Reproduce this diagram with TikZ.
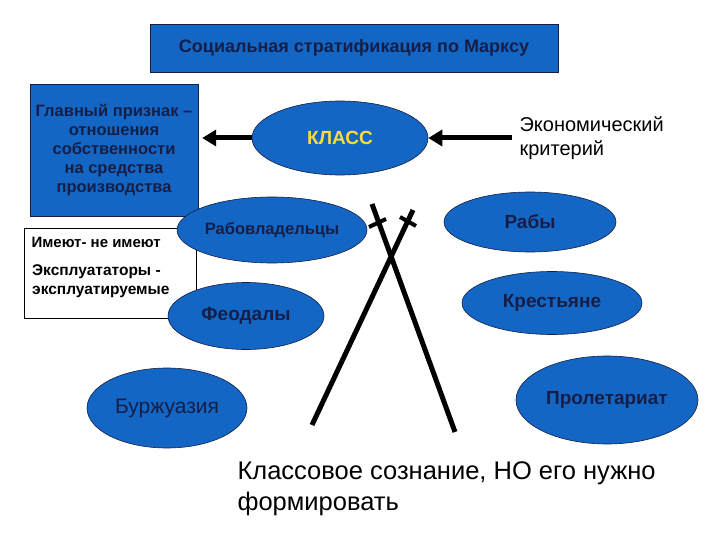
\documentclass[tikz,border=0pt]{standalone}
\usepackage{fontspec}
\setmainfont{Liberation Sans}
\usetikzlibrary{shapes.geometric,arrows.meta}
\definecolor{blu}{RGB}{20,102,196}
\definecolor{navy}{RGB}{20,30,70}
\definecolor{yel}{RGB}{250,220,60}
\tikzset{
 ell/.style={ellipse,draw=navy,fill=blu,line width=0.6pt,inner sep=0pt,font=\bfseries\fontsize{19}{21}\selectfont,text=navy},
 stick/.style={line width=5pt,black},
}
\begin{document}
\begin{tikzpicture}[x=1pt,y=-1pt]
\useasboundingbox (0,0) rectangle (720,540);
\fill[white] (0,0) rectangle (720,540);
% title
\node[draw=navy,fill=blu,minimum width=408pt,minimum height=48pt,font=\bfseries\fontsize{18}{20}\selectfont,text=navy] (title) at (354,48) {Социальная стратификация по Марксу};
% white box
\node[draw=black,fill=white,line width=0.5pt,minimum width=172pt,minimum height=90pt] (wbox) at (110,273) {};
\node[anchor=west,font=\bfseries\fontsize{15}{18}\selectfont] (t1) at (28,242) {Имеют- не имеют};
\node[anchor=north west,align=left,font=\bfseries\fontsize{15.5}{19}\selectfont,inner sep=2pt] (t2) at (30,262) {Эксплуататоры -\\эксплуатируемые};
% blue box
\node[draw=navy,fill=blu,minimum width=168pt,minimum height=132pt,align=center,font=\bfseries\fontsize{16.5}{19}\selectfont,text=navy] (gbox) at (114,150) {Главный признак –\\отношения\\собственности\\на средства\\производства};
% ellipses
\node[ell,minimum width=176pt,minimum height=74pt,text=yel] (klass) at (340,138) {КЛАСС};
\node[ell,minimum width=161pt,minimum height=66pt,font=\bfseries\fontsize{16.5}{19}\selectfont] (rabov) at (272,230) {Рабовладельцы};
\node[ell,minimum width=156pt,minimum height=67pt] (feod) at (246,316) {Феодалы};
\node[ell,minimum width=160pt,minimum height=80pt,font=\fontsize{21}{23}\selectfont] (burzh) at (167,408) {Буржуазия};
\node[ell,minimum width=172pt,minimum height=60pt] (raby) at (530,222) {Рабы};
\node[ell,minimum width=180pt,minimum height=63pt] (krest) at (552,303) {Крестьяне};
\node[ell,minimum width=182pt,minimum height=88pt] (prol) at (607,400) {Пролетариат};
% economic criterion
\node[align=left,anchor=west,font=\fontsize{20}{24}\selectfont] (ekon) at (516,138) {Экономический\\критерий};
\coordinate (ekonL) at (512,138);
\coordinate (gE) at (gbox.east |- klass.west);
% arrows
\draw[line width=5pt,-{Triangle[length=14pt,width=16pt]}] (klass.west) -- ([xshift=4pt]gE);
\draw[line width=5pt,-{Triangle[length=14pt,width=16pt]}] (ekonL) -- (klass.east);
% sticks
\coordinate (a1) at (372,204); \coordinate (a2) at (455,432);
\coordinate (b1) at (413,210); \coordinate (b2) at (312,425);
\draw[stick] (a1) -- (a2);
\draw[stick] (b1) -- (b2);
\coordinate (ca1) at (369,227); \coordinate (ca2) at (386,219);
\coordinate (cb1) at (400,217); \coordinate (cb2) at (416,226);
\draw[stick,line width=4pt] (ca1) -- (ca2);
\draw[stick,line width=4pt] (cb1) -- (cb2);
% bottom text
\node[anchor=north west,align=left,font=\fontsize{25.5}{31}\selectfont] (bot) at (234,458) {Классовое сознание, НО его нужно\\формировать};
\end{tikzpicture}
\end{document}
